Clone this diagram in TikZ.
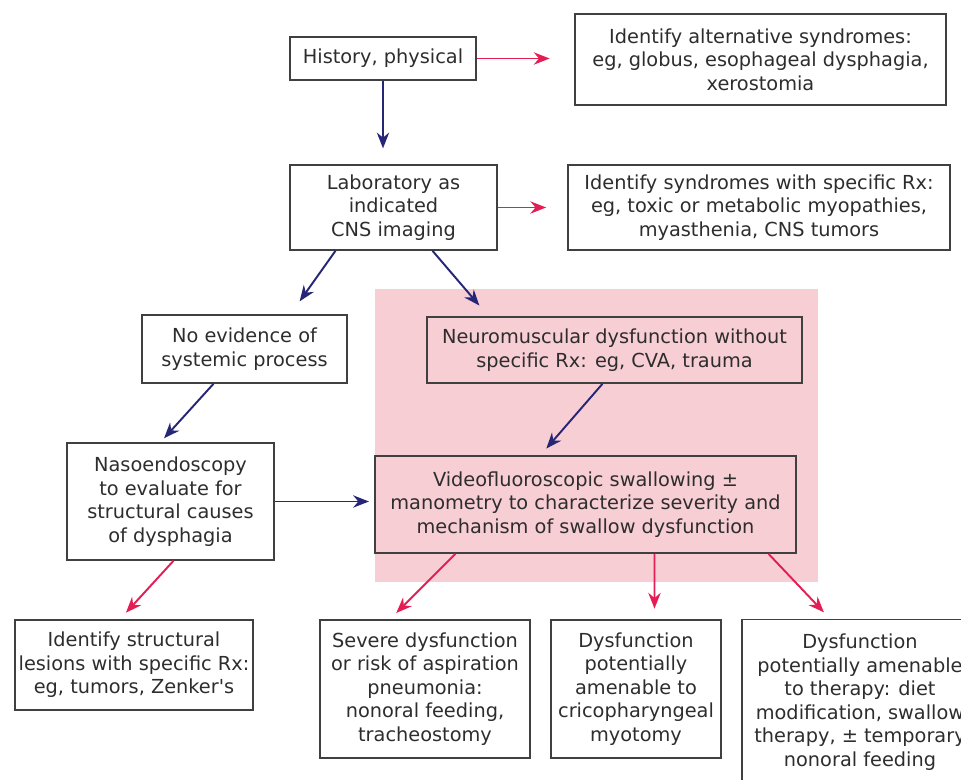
\documentclass[tikz,border=0pt]{standalone}
\usepackage{fontspec}
\setmainfont{DejaVu Sans}
\usetikzlibrary{arrows.meta}
\definecolor{boxgray}{RGB}{64,64,64}
\definecolor{txtgray}{RGB}{45,45,45}
\definecolor{arrred}{RGB}{228,30,84}
\definecolor{arrblue}{RGB}{38,38,118}
\definecolor{shadepink}{RGB}{248,206,213}
\tikzset{
  box/.style={draw=boxgray,line width=.9pt,text=txtgray,align=center,
    inner sep=2pt,font=\fontsize{11}{13.4}\selectfont},
  redarr/.style={->,draw=arrred,line width=1.1pt},
  bluarr/.style={->,draw=arrblue,line width=1.1pt},
  >={Stealth[length=9pt,width=7pt]}
}
\begin{document}
\begin{tikzpicture}
        \def\x{.02}
        \def\y{-.02}
        \useasboundingbox (0,0) rectangle (961*\x, 780*\y);
        \fill[shadepink] (375*\x, 289*\y) rectangle (818*\x, 582*\y);
        \node[box, minimum width=3.72cm, minimum height=.86cm] (A0_0) at (383*\x, 58.5*\y) {History, physical};
        \node[box, minimum width=7.42cm, minimum height=1.82cm] (A0_1) at (760.5*\x, 59.5*\y) {Identify alternative syndromes:\\eg, globus, esophageal dysphagia,\\xerostomia};
        \node[box, minimum width=4.14cm, minimum height=1.7cm] (A1_0) at (393.5*\x, 207.5*\y) {Laboratory as\\indicated\\CNS imaging};
        \node[box, minimum width=7.64cm, minimum height=1.7cm] (A1_1) at (759*\x, 207.5*\y) {Identify syndromes with specific Rx:\\eg, toxic or metabolic myopathies,\\myasthenia, CNS tumors};
        \node[box, minimum width=4.1cm, minimum height=1.36cm] (A2_0) at (244.5*\x, 349*\y) {No evidence of\\systemic process};
        \node[box, minimum width=7.5cm, minimum height=1.32cm] (A2_1) at (614.5*\x, 350*\y) {Neuromuscular dysfunction without\\specific Rx: eg, CVA, trauma};
        \node[box, minimum width=4.14cm, minimum height=2.34cm] (A3_0) at (170.5*\x, 501.5*\y) {Nasoendoscopy\\to evaluate for\\structural causes\\of dysphagia};
        \node[box, minimum width=8.42cm, minimum height=1.94cm] (A3_1) at (585.5*\x, 504.5*\y) {Videofluoroscopic swallowing ±\\manometry to characterize severity and\\mechanism of swallow dysfunction};
        \node[box, minimum width=4.64cm, minimum height=1.8cm] (A4_0) at (134*\x, 665*\y) {Identify structural\\lesions with specific Rx:\\eg, tumors, Zenker\textquotesingle s};
        \node[box, minimum width=4.2cm, minimum height=2.76cm] (A4_1) at (425*\x, 689*\y) {Severe dysfunction\\or risk of aspiration\\pneumonia:\\nonoral feeding,\\tracheostomy};
        \node[box, minimum width=3.4cm, minimum height=2.76cm] (A4_2) at (636*\x, 689*\y) {Dysfunction\\potentially\\amenable to\\cricopharyngeal\\myotomy};
        \node[box, minimum width=4.72cm, minimum height=3.3cm] (A4_3) at (860*\x, 702*\y) {Dysfunction\\potentially amenable\\to therapy: diet\\modification, swallow\\therapy, ± temporary\\nonoral feeding};
        \draw[redarr, shorten >=14pt] (A0_0.east) -- (A0_0.east -| A0_1.west);
        \draw[bluarr, shorten >=9pt] (A0_0.south) -- (A1_0.north -| A0_0.south);
        \draw[redarr, shorten >=12pt] (A1_0.east) -- (A1_0.east -| A1_1.west);
        \draw[bluarr, shorten >=9pt] ([xshift=-1.16cm]A1_0.south) -- ([xshift=.92cm]A2_0.north);
        \draw[bluarr, shorten >=8pt] ([xshift=.78cm]A1_0.south) -- ([xshift=-2.52cm]A2_1.north);
        \draw[bluarr, shorten >=3pt] ([xshift=-.62cm]A2_0.south) -- ([xshift=-.2cm]A3_0.north);
        \draw[bluarr, shorten >=5pt] ([xshift=-.24cm]A2_1.south) -- ([xshift=-.9cm]A3_1.north);
        \draw[bluarr, shorten >=3pt] (A3_0.east) -- (A3_0.east -| A3_1.west);
        \draw[redarr, shorten >=5pt] ([xshift=.06cm]A3_0.south) -- ([xshift=-.28cm]A4_0.north);
        \draw[redarr, shorten >=5pt] ([xshift=-2.6cm]A3_1.south) -- ([xshift=-.7cm]A4_1.north);
        \draw[redarr, shorten >=6pt] ([xshift=1.38cm]A3_1.south) -- ([xshift=.37cm]A4_2.north);
        \draw[redarr, shorten >=5pt] ([xshift=3.66cm]A3_1.south) -- ([xshift=-.6cm]A4_3.north);
\end{tikzpicture}
\end{document}
